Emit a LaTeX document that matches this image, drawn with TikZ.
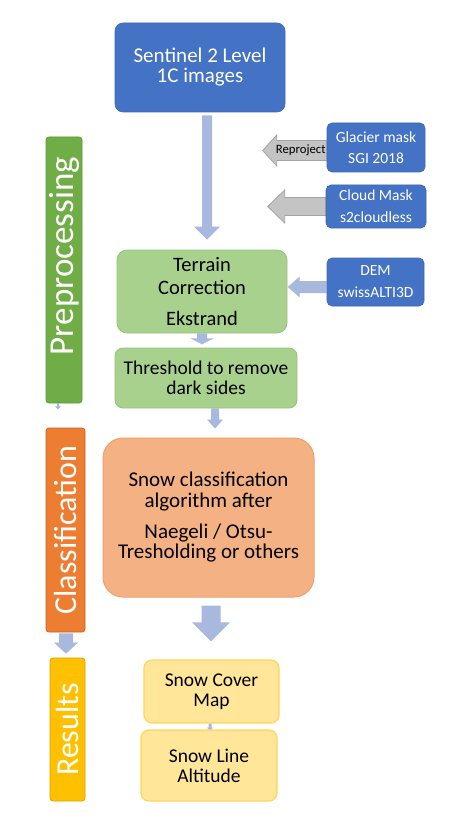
\documentclass[tikz,border=0pt]{standalone}
\usepackage{fontspec}
\setmainfont{Carlito}
\usetikzlibrary{calc}
\definecolor{blueA}{HTML}{4472C4}
\definecolor{blueB}{HTML}{3F69B5}
\definecolor{lblue}{HTML}{A9B8DE}
\definecolor{grayF}{HTML}{C4C4C4}
\definecolor{grayD}{HTML}{A3A3A3}
\definecolor{greenBar}{HTML}{70AD47}
\definecolor{greenBarD}{HTML}{5E9A3A}
\definecolor{greenBox}{HTML}{A9D18E}
\definecolor{greenBoxD}{HTML}{93C47D}
\definecolor{orangeBar}{HTML}{ED7D31}
\definecolor{orangeBarD}{HTML}{C8621F}
\definecolor{salmon}{HTML}{F4B183}
\definecolor{salmonD}{HTML}{EFA06E}
\definecolor{yellowBar}{HTML}{FFC000}
\definecolor{yellowBarD}{HTML}{D9A300}
\definecolor{yellowBox}{HTML}{FFE699}
\definecolor{yellowBoxD}{HTML}{FFD55E}
\pgfdeclarelayer{back}
\pgfdeclarelayer{arrows}
\pgfsetlayers{back,arrows,main}
\newcommand\blkdown[6]{\path[#1] let \p1=(#2), \p2=(#3) in
  (\x2-#4,\y1) -- (\x2+#4,\y1) -- (\x2+#4,\y2+#6) -- (\x2+#5,\y2+#6) -- (\x2,\y2)
  -- (\x2-#5,\y2+#6) -- (\x2-#4,\y2+#6) -- cycle;}
\newcommand\blkleft[6]{\path[#1] let \p1=(#2), \p2=(#3) in
  (\x1,\y2+#4) -- (\x2+#6,\y2+#4) -- (\x2+#6,\y2+#5) -- (\x2,\y2)
  -- (\x2+#6,\y2-#5) -- (\x2+#6,\y2-#4) -- (\x1,\y2-#4) -- cycle;}
\tikzset{
  box/.style={inner sep=0pt, align=center, rounded corners=8pt},
  bluebox/.style={box, fill=blueA, draw=blueB, line width=0.6pt, text=white},
  greenbox/.style={box, fill=greenBox, draw=greenBoxD, line width=0.8pt, text=black, rounded corners=10pt},
  salmonbox/.style={box, fill=salmon, draw=salmonD, line width=1pt, text=black, rounded corners=20pt},
  yellowbox/.style={box, fill=yellowBox, draw=yellowBoxD, line width=1.2pt, text=black, rounded corners=8pt},
  bar/.style={inner sep=0pt, rotate=90, rounded corners=3pt, text=white, line width=0.8pt},
  larrow/.style={fill=lblue},
  garrow/.style={fill=grayF, draw=grayD, line width=0.8pt, line join=miter},
}
\begin{document}
\begin{tikzpicture}[x=1pt,y=-1pt]
\useasboundingbox (0,0) rectangle (450,826);
\begin{pgfonlayer}{back}
\fill[white] (0,0) rectangle (450,826);
\end{pgfonlayer}

% main boxes
\node[bluebox, minimum width=170pt, minimum height=89pt, font=\fontsize{21}{20}\selectfont] (sent) at (200,67.5) {Sentinel 2 Level\\1C images};
\node[bluebox, minimum width=98pt, minimum height=49pt, rounded corners=5pt, font=\fontsize{15.5}{21}\selectfont] (glac) at (376,147.5) {Glacier mask\\SGI 2018};
\node[bluebox, minimum width=100pt, minimum height=43pt, rounded corners=5pt, font=\fontsize{15.5}{22}\selectfont] (cloud) at (376,206.5) {Cloud Mask\\s2cloudless};
\node[bluebox, minimum width=97pt, minimum height=48pt, rounded corners=5pt, font=\fontsize{15.5}{22}\selectfont] (dem) at (375.5,282) {DEM\\swissALTI3D};

\node[greenbox, minimum width=170pt, minimum height=83pt, font=\fontsize{20.5}{23}\selectfont] (terr) at (202,291.5) {Terrain\\Correction\\[8pt]Ekstrand};
\node[greenbox, minimum width=182pt, minimum height=60pt, rounded corners=8pt, font=\fontsize{19.5}{20}\selectfont] (thr) at (206,378) {Threshold to remove\\dark sides};

\node[salmonbox, minimum width=211pt, minimum height=159pt, font=\fontsize{21}{20.5}\selectfont] (cls) at (208.5,517.5) {Snow classification\\algorithm after\\[10.5pt]Naegeli / Otsu-\\Tresholding or others};

\node[yellowbox, minimum width=135pt, minimum height=63pt, font=\fontsize{19.5}{19.5}\selectfont] (scm) at (211.5,691.5) {Snow Cover\\Map};
\node[yellowbox, minimum width=136pt, minimum height=71pt, font=\fontsize{19.5}{20}\selectfont] (sla) at (209,765.5) {Snow Line\\Altitude};

% side bars
\node[bar, fill=greenBar, draw=greenBarD, minimum width=266pt, minimum height=36pt, font=\fontsize{35}{35}\selectfont] (prebar) at (64,270) {\hspace*{28pt}Preprocessing};
\node[bar, fill=orangeBar, draw=orangeBarD, minimum width=204pt, minimum height=39pt, font=\fontsize{32}{32}\selectfont] (classbar) at (65.5,530) {Classification};
\node[bar, fill=yellowBar, draw=yellowBarD, minimum width=143pt, minimum height=35pt, font=\fontsize{32}{32}\selectfont] (resbar) at (67.5,729.5) {Results};

% connector end points
\coordinate (m1) at ($(sent.south)+(7,3)$);
\coordinate (m2) at ($(terr.north)+(5,-10)$);
\coordinate (g1) at ($(glac.west)+(0,3)$);
\coordinate (g2) at ($(glac.west)+(-64,3)$);
\coordinate (c1) at (cloud.west);
\coordinate (c2) at ($(cloud.west)+(-58,0)$);
\coordinate (d1) at ($(dem.west)+(0,5)$);
\coordinate (d2) at ($(dem.west)+(-39,5)$);
\coordinate (t1) at (terr.south);
\coordinate (t2) at ($(terr.south)+(0,11)$);
\coordinate (h1) at ($(thr.south)+(9,0)$);
\coordinate (h2) at ($(cls.north)+(6.5,-9)$);
\coordinate (k1) at ($(cls.south)+(2.5,8)$);
\coordinate (k2) at ($(scm.north)+(-0.5,-18)$);
\coordinate (b1) at ($(classbar.west)+(0.5,1)$);
\coordinate (b2) at ($(resbar.east)+(-1.5,-4)$);
\coordinate (p1) at ($(prebar.west)+(-6,0)$);
\coordinate (p2) at ($(prebar.west)+(-6,6)$);
\coordinate (s1) at ($(scm.south)+(-1.5,0)$);
\coordinate (s2) at ($(scm.south)+(-1.5,7)$);

\begin{pgfonlayer}{arrows}
\blkdown{larrow}{m1}{m2}{5pt}{13pt}{13pt}
\blkleft{garrow}{g1}{g2}{10pt}{15.5pt}{14pt}
\blkleft{garrow}{c1}{c2}{9pt}{16.5pt}{17pt}
\blkleft{larrow}{d1}{d2}{6pt}{10.5pt}{12pt}
\blkdown{larrow}{t1}{t2}{5pt}{11.5pt}{6pt}
\blkdown{larrow}{h1}{h2}{4pt}{8pt}{9pt}
\blkdown{larrow}{k1}{k2}{9.5pt}{19pt}{19pt}
\blkdown{larrow}{b1}{b2}{7pt}{12pt}{11pt}
\blkdown{larrow}{p1}{p2}{1pt}{3pt}{3pt}
\blkdown{larrow}{s1}{s2}{1.5pt}{3pt}{3pt}
\end{pgfonlayer}

\node[inner sep=0pt, anchor=east, font=\fontsize{12.7}{14}\selectfont] (rep) at ($(glac.west)+(-1,3)$) {Reproject};
\end{tikzpicture}
\end{document}
